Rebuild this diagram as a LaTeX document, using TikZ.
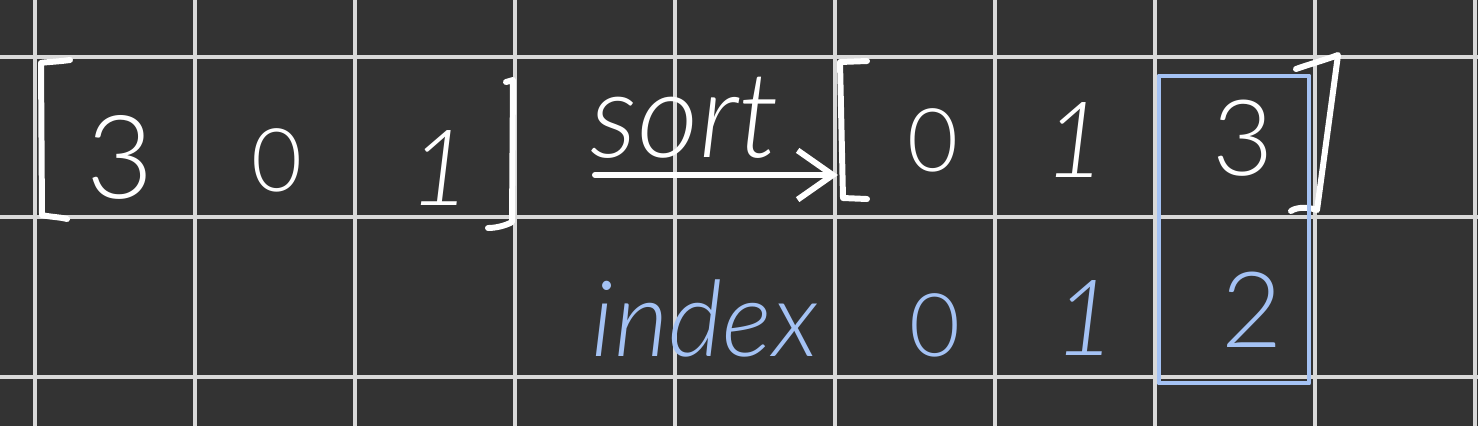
\documentclass[tikz,border=0pt]{standalone}
\usepackage{fontspec}
\setmainfont{Lato}[UprightFont={* Light},ItalicFont={* Light Italic}]
\usetikzlibrary{arrows.meta}
\definecolor{bg}{HTML}{333333}
\definecolor{gridc}{HTML}{D9D9D9}
\definecolor{ink}{HTML}{FFFFFF}
\definecolor{blueink}{HTML}{A4C2F4}
\tikzset{
  gridline/.style={draw=gridc, line width=1.05pt},
  stroke/.style={draw=ink, line width=1.7pt, line cap=round, line join=round},
  wtext/.style={text=ink, inner sep=0pt},
  btext/.style={text=blueink, inner sep=0pt},
  hlbox/.style={draw=blueink, line width=1.4pt, line join=round},
}
\begin{document}
\begin{tikzpicture}[x=0.01cm, y=-0.01cm]
\fill[bg] (0,0) rectangle (1478,426);
\useasboundingbox (0,0) rectangle (1478,426);
% grid
\foreach \i in {0,...,9} {\draw[gridline] (35+160*\i,0) -- (35+160*\i,426);}
\foreach \j in {57,217,377} {\draw[gridline] (0,\j) -- (1478,\j);}
% first array
\draw[stroke] (70,60) .. controls (55,62) and (45,62) .. (41,63) -- (42,215) .. controls (50,217) and (60,217) .. (67,219);
\node[wtext, font=\fontsize{33}{33}\selectfont] (a3) at (120,157) {3};
\node[wtext, font=\fontsize{25}{25}\selectfont] (a0) at (277,160) {0};
\node[wtext, font=\fontsize{30}{30}\selectfont\itshape] (a1) at (440,168) {1};
\draw[stroke] (506,82) -- (513,80) -- (512,222) .. controls (505,226) and (495,228) .. (488,228);
% sort arrow
\node[wtext, font=\fontsize{34}{34}\selectfont\itshape] (sortlbl) at (685,118) {sort};
\coordinate (arrS) at (595,175);
\coordinate (arrE) at (838,175);
\draw[stroke, -{Straight Barb[length=10pt, width=14pt, line width=1.7pt]}] (arrS) -- (arrE);
% second array
\draw[stroke] (867,61) -- (840,62) -- (843,198) -- (867,199);
\node[wtext, font=\fontsize{25}{25}\selectfont] (s0) at (933,140) {0};
\node[wtext, font=\fontsize{30}{30}\selectfont\itshape] (s1) at (1075,140) {1};
\node[wtext, font=\fontsize{30}{30}\selectfont] (s3) at (1243,138) {3};
\draw[stroke] (1296,69) .. controls (1310,64) and (1325,60) .. (1338,55) -- (1317,210) .. controls (1305,206) and (1295,208) .. (1291,211);
% highlight box
\draw[hlbox] (1159,76) rectangle (1309,383);
% index row
\node[btext, font=\fontsize{30}{30}\selectfont\itshape] (idx) at (705,318) {index};
\node[btext, font=\fontsize{25}{25}\selectfont] (i0) at (935,325) {0};
\node[btext, font=\fontsize{30}{30}\selectfont\itshape] (i1) at (1085,318) {1};
\node[btext, font=\fontsize{30}{30}\selectfont] (i2) at (1252,310) {2};
\end{tikzpicture}
\end{document}
